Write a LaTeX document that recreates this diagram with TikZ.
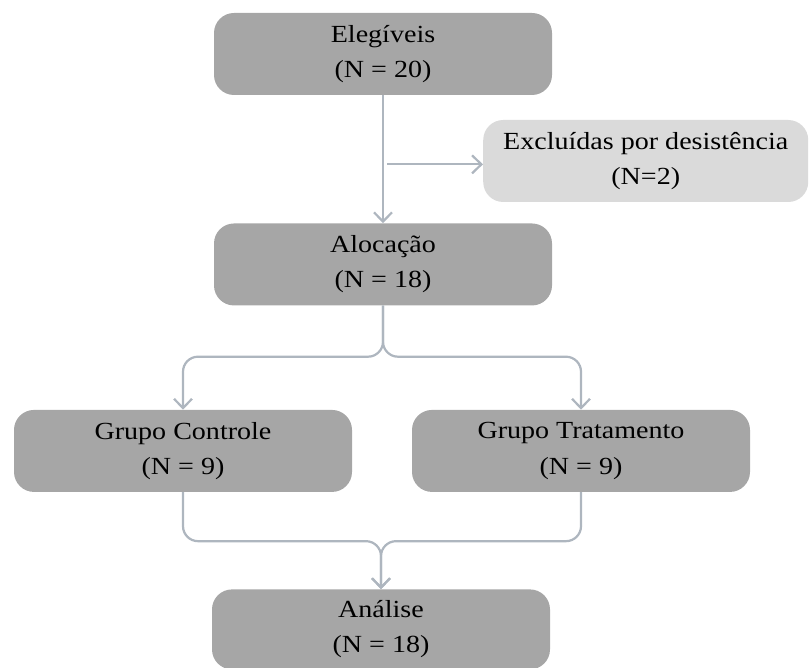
\documentclass[tikz,border=0pt]{standalone}
\usepackage{fontspec}
\setmainfont{Liberation Serif}[FakeStretch=1.14]
\usepackage{xcolor}
\usepackage{tikz}
\usetikzlibrary{arrows.meta, positioning, calc}

\definecolor{boxgray}{HTML}{A6A6A6}
\definecolor{lightgray}{HTML}{DADADA}
\definecolor{linkgray}{HTML}{AEB6BF}

\begin{document}
\begin{tikzpicture}[
                font=\fontsize{21}{30}\selectfont,
                block/.style={rectangle, rounded corners=0.6cm, fill=boxgray, minimum width=10.14cm, minimum height=2.46cm, inner sep=0pt, align=center},
                excluded/.style={block, fill=lightgray, minimum width=9.75cm},
                link/.style={draw=linkgray, line width=1.9pt, -{Straight Barb[length=2.8mm, width=5.4mm, line width=1.9pt]}},
                elbow/.style={link, rounded corners=0.45cm}
            ]
                \useasboundingbox (0,0) rectangle (24.27,-20.04);

                % Flow Nodes
                \node[block] (eleg) at (11.49,-1.62) {Elegíveis\\(N = 20)};
                \node[block, below=3.84cm of eleg] (aloc) {Alocação\\(N = 18)};
                \node[block, below=3.12cm of aloc, xshift=-6.0cm] (ctrl) {Grupo Controle\\(N = 9)};
                \node[block, below=3.12cm of aloc, xshift=5.94cm] (trat) {Grupo Tratamento\\(N = 9)};
                \node[block, below=2.91cm of ctrl, xshift=5.94cm, minimum height=2.4cm] (anal) {Análise\\(N = 18)};
                \node[excluded, anchor=west] (excl) at (14.49,-4.83) {Excluídas por desistência\\(N=2)};

                % Edges
                \coordinate (branch) at ($(eleg.south)!0.54!(aloc.north)$);
                \draw[link] (eleg) -- (aloc);
                \draw[link] ([xshift=0.12cm]branch) -- (branch -| excl.west);
                \draw[elbow] (aloc.south) -- ++(0,-1.53) -| (ctrl.north);
                \draw[elbow] (aloc.south) -- ++(0,-1.53) -| (trat.north);
                \draw[elbow] (ctrl.south) -- ++(0,-1.47) -| (anal.north);
                \draw[elbow] (trat.south) -- ++(0,-1.47) -| (anal.north);
            \end{tikzpicture}
\end{document}
